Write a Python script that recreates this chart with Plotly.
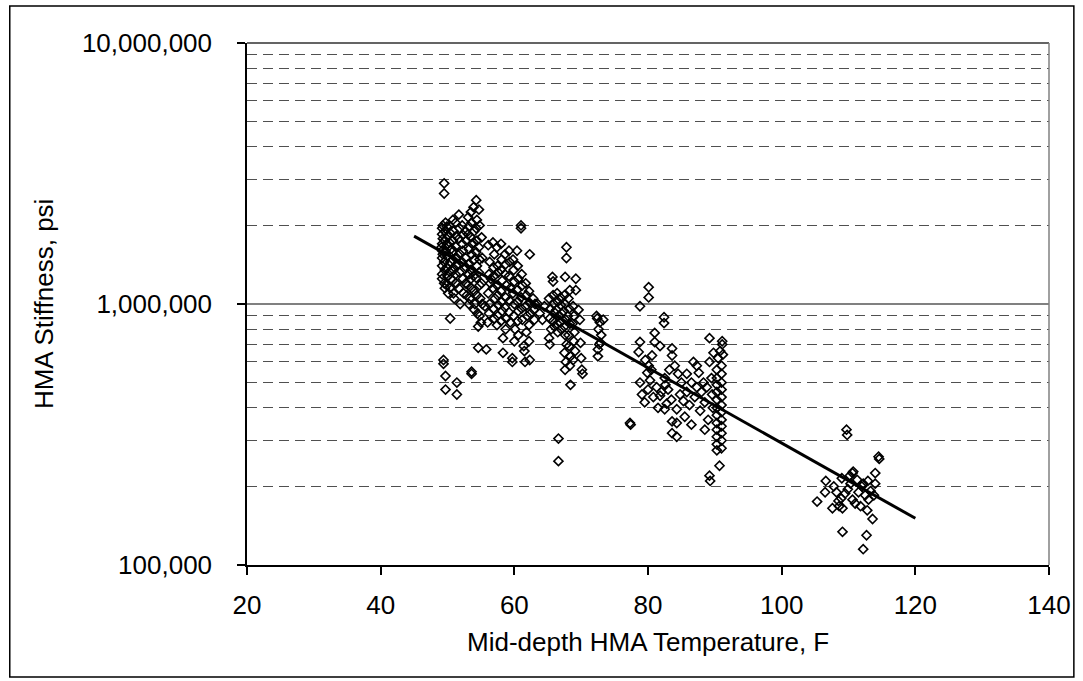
import plotly.graph_objects as go

# ---- data (temperature F, stiffness ksi) ----
group_49_55 = [
    (49.2,1950),(49.2,1850),(49.2,1700),(49.2,1600),(49.2,1500),(49.2,1400),(49.2,1300),(49.2,1250),
    (49.3,1780),(49.3,2000),(49.3,1550),(49.1,1650),
    (49.5,2900),(49.5,2650),(49.6,1900),(49.6,1750),(49.5,1450),(49.6,1350),(49.5,1200),(49.6,1150),
    (49.7,1600),(49.7,2050),
    (49.9,1980),(50.0,1820),(49.9,1680),(50.0,1520),(49.9,1380),(50.0,1280),(49.9,1180),(50.1,1100),
    (50.3,2000),(50.4,1870),(50.3,1720),(50.4,1450),(50.3,1330),(50.5,1620),(50.4,1150),(50.5,1250),
    (50.8,2100),(50.9,1900),(50.8,1750),(50.9,1600),(50.8,1480),(50.9,1350),(50.8,1230),(50.9,1100),(51.0,1050),
    (51.2,2050),(51.3,1820),(51.2,1660),(51.3,1400),(51.2,1300),(51.3,1200),(51.4,1500),
    (51.7,2200),(51.8,1950),(51.7,1780),(51.8,1560),(51.7,1420),(51.8,1320),(51.7,1150),(51.9,1000),
    (52.2,2000),(52.3,1840),(52.2,1700),(52.3,1600),(52.2,1450),(52.3,1250),(52.4,1100),
    (52.7,1900),(52.8,1750),(52.7,1500),(52.8,1380),(52.7,1200),(52.9,1080),
    (53.1,2150),(53.2,1980),(53.1,1850),(53.2,1620),(53.1,1420),(53.2,1300),(53.1,1180),(53.3,1050),(53.2,1000),
    (53.5,2250),(53.6,2050),(53.5,1800),(53.6,1550),(53.5,1350),(53.6,1150),(53.5,1250),(53.7,1700),
    (53.9,2350),(54.0,1900),(53.9,1720),(54.0,1480),(53.9,1280),(54.0,1120),(54.1,1000),(54.0,950),
    (54.3,2500),(54.4,2100),(54.3,1950),(54.4,1750),(54.3,1580),(54.4,1400),(54.3,1260),(54.4,1080),(54.5,920),
    (54.7,2300),(54.8,2000),(54.7,1650),(54.8,1480),(54.7,1320),(54.8,1180),(54.9,1050),(54.8,900),(55.0,850),
    (55.1,1800),(55.2,1500),(55.1,1200),(55.2,1000),
    (49.4,610),(49.4,590),(49.7,530),(49.7,470),(51.4,500),(51.4,450),(53.6,550),(53.6,540),
    (54.6,680),(54.6,820),(55.8,670),(50.4,880),(55.6,980),(56.0,850),
]

group_56_64 = [
    (56.1,1680),(56.3,1450),(56.2,1300),(56.4,1200),(56.1,1100),(56.3,1000),(56.2,920),(56.5,1250),
    (56.8,1720),(57.0,1550),(56.9,1380),(57.0,1280),(56.8,1150),(57.1,1050),(56.9,960),(57.0,880),
    (57.4,1650),(57.5,1400),(57.6,1320),(57.4,1180),(57.5,1080),(57.6,990),(57.5,900),(57.4,830),
    (58.0,1700),(58.1,1480),(58.0,1350),(58.2,1230),(58.0,1120),(58.1,1020),(58.2,940),(58.0,860),(58.3,740),(58.3,650),
    (58.6,1550),(58.7,1420),(58.6,1300),(58.8,1180),(58.7,1060),(58.6,970),(58.8,880),(58.7,800),
    (59.2,1600),(59.3,1450),(59.2,1280),(59.4,1150),(59.3,1030),(59.2,930),(59.4,850),(59.7,620),(59.7,600),
    (59.8,1480),(59.9,1350),(60.0,1220),(59.8,1100),(60.0,1000),(59.9,900),(60.1,800),(60.0,720),
    (60.4,1600),(60.5,1400),(60.6,1250),(60.4,1130),(60.5,1020),(60.6,940),(60.5,860),(60.6,760),
    (61.0,2000),(61.0,1950),(61.1,1300),(61.2,1180),(61.0,1060),(61.1,960),(61.2,870),(61.4,690),(61.5,660),
    (61.7,1200),(61.8,1080),(61.7,980),(61.9,900),(61.8,780),(61.6,600),
    (62.3,1550),(62.2,1120),(62.3,1010),(62.4,920),(62.2,830),(62.3,610),(62.2,720),
    (62.8,1050),(62.9,950),(63.0,870),(63.1,1000),
    (63.5,1000),(63.8,920),(64.2,870),(64.5,980),
]

group_65_70 = [
    (67.8,1650),(67.8,1500),(65.7,1270),(65.8,1220),(67.6,1270),(69.2,1250),(68.3,1130),(69.2,1130),
    (65.2,1050),(65.4,960),(65.3,880),(65.5,800),(65.2,740),(65.3,700),
    (65.8,1080),(65.9,1000),(66.0,930),(65.8,860),(66.0,820),
    (66.4,1100),(66.5,1020),(66.3,950),(66.6,900),(66.4,840),(66.5,780),
    (66.9,1060),(67.0,990),(67.1,920),(66.9,850),(67.0,800),
    (67.5,1080),(67.6,1000),(67.4,940),(67.7,870),(67.5,820),(67.6,760),(67.8,700),(67.5,650),(67.7,600),(67.6,560),
    (68.1,1050),(68.2,960),(68.0,900),(68.3,840),(68.1,760),(68.2,690),(68.4,630),(68.3,580),(68.4,490),
    (68.8,980),(68.9,900),(68.7,840),(69.0,780),(68.9,720),(69.1,660),(68.8,610),
    (69.6,950),(69.8,870),(69.9,710),(70.0,620),(70.1,560),(70.2,540),
    (66.6,305),(66.6,250),
]

group_72_77 = [
    (72.3,900),(72.4,880),(72.6,800),(72.8,850),(73.3,870),(72.7,700),(72.5,670),(72.5,630),(73.0,760),(72.9,710),
    (77.3,350),(77.4,345),
]

group_79_92 = [
    (80.1,1160),(80.1,1060),(78.8,980),(82.4,890),(82.4,845),(81.0,775),(78.8,715),(78.6,655),(81.0,715),
    (81.8,690),(83.6,675),(83.6,635),(84.0,580),(80.6,635),(80.1,580),(79.9,545),(78.8,500),(79.1,450),
    (80.3,510),(81.3,480),(82.5,520),(82.6,490),(81.8,445),(82.8,415),(82.5,395),(83.5,430),(84.3,395),
    (83.6,355),(84.3,350),(83.6,320),(84.3,310),(85.3,425),(85.5,370),(86.5,345),(86.8,600),(87.3,580),
    (87.6,545),(86.5,500),(87.3,480),(88.3,500),(88.5,420),(88.5,330),(89.2,740),(89.8,650),(89.2,600),
    (91.1,720),(91.1,700),
    (90.3,560),(90.3,520),(90.3,490),(90.3,460),(90.3,430),(90.3,400),(90.3,375),(90.3,350),(90.3,330),
    (90.3,310),(90.3,290),(90.3,275),
    (91.0,580),(91.0,540),(91.0,500),(91.0,470),(91.0,440),(91.0,410),(91.0,385),(91.0,360),(91.0,340),
    (91.0,320),(91.0,300),(91.0,280),(90.7,240),
    (89.2,220),(89.3,210),
    (79.5,420),(80.0,470),(80.8,440),(81.5,400),(82.0,460),(83.0,470),(84.8,450),(85.0,500),(85.8,460),
    (86.2,410),(87.0,440),(87.8,390),(88.0,460),(88.8,480),(89.5,520),(89.6,450),(89.7,400),(89.0,360),
    (84.5,540),(83.2,560),(85.8,540),(80.5,560),(79.6,610),(90.5,620),(91.2,640),(90.8,660),
]

group_105_115 = [
    (109.7,330),(109.8,315),(114.5,260),(114.6,255),(105.3,175),(106.6,210),(106.5,190),(107.6,165),
    (109.1,134),(112.7,130),(112.2,115),(113.6,150),(109.1,165),(110.6,225),(110.7,228),(110.2,220),
    (109.0,215),(114.0,225),(114.0,205),(112.2,205),(112.9,210),(112.5,185),(111.8,168),(111.0,172),
    (110.6,178),(108.5,176),(108.6,168),(113.0,178),(108.2,190),(109.9,195),(108.9,180),(111.5,190),
    (113.3,192),(112.0,200),(110.3,205),(107.8,200),(113.8,185),(111.3,212),(109.5,188),(112.8,162),
]

trend_temp = [45, 120]
trend_stiff = [1820000, 151000]

x_ticks = [20, 40, 60, 80, 100, 120, 140]
y_major = [100000, 1000000, 10000000]
y_major_text = ["100,000", "1,000,000", "10,000,000"]
y_minor = [m * 10 ** k for k in (5, 6) for m in range(2, 10)]

groups = [group_49_55, group_56_64, group_65_70, group_72_77, group_79_92, group_105_115]
temps = [t for g in groups for t, _ in g]
stiff = [e * 1000 for g in groups for _, e in g]

FONT = "Liberation Sans, Arial, sans-serif"

fig = go.Figure()
fig.add_trace(go.Scatter(
    x=temps, y=stiff, mode="markers",
    marker=dict(symbol="diamond-open", size=7, color="black", line=dict(width=1.6, color="black")),
    showlegend=False, hoverinfo="skip",
))
fig.add_trace(go.Scatter(
    x=trend_temp, y=trend_stiff, mode="lines",
    line=dict(color="black", width=3), showlegend=False, hoverinfo="skip",
))

fig.update_layout(
    width=1083, height=681,
    margin=dict(l=247, r=28, t=43, b=116, pad=0),
    paper_bgcolor="white", plot_bgcolor="white",
    font=dict(family=FONT, size=26, color="black"),
    xaxis=dict(
        range=[20, 140], tickvals=x_ticks, ticks="outside", ticklen=8, tickwidth=1.5,
        tickcolor="black", showline=True, linecolor="black", linewidth=1.5,
        showgrid=False, zeroline=False, ticklabelstandoff=8,
        tickfont=dict(family=FONT, size=26),
    ),
    yaxis=dict(
        type="log", range=[5, 7], tickvals=y_major, ticktext=y_major_text,
        ticks="outside", ticklen=8, tickwidth=1.5, tickcolor="black",
        showline=True, linecolor="black", linewidth=1.5,
        showgrid=True, gridcolor="#808080", gridwidth=1.5, zeroline=False,
        ticklabelstandoff=20,
        tickfont=dict(family=FONT, size=26),
        minor=dict(tickvals=y_minor, showgrid=True, gridcolor="#505050", gridwidth=1,
                   griddash="10px,6px", ticks=""),
    ),
    shapes=[
        dict(type="line", xref="paper", yref="paper", x0=0, x1=1, y0=1, y1=1,
             line=dict(color="#303030", width=1.5)),
        dict(type="line", xref="paper", yref="paper", x0=1, x1=1, y0=0, y1=1,
             line=dict(color="#808080", width=1.5)),
        dict(type="rect", xref="paper", yref="paper", x0=-0.2958, x1=1.031, y0=-0.2145, y1=1.071,
             line=dict(color="black", width=1.5)),
    ],
    annotations=[
        dict(text="Mid-depth HMA Temperature, F", xref="paper", yref="paper", x=0.5, y=-0.148,
             xanchor="center", yanchor="middle", showarrow=False, font=dict(family=FONT, size=26)),
        dict(text="HMA Stiffness, psi", xref="paper", yref="paper", x=-0.253, y=0.5,
             xanchor="center", yanchor="middle", textangle=-90, showarrow=False,
             font=dict(family=FONT, size=26)),
    ],
)

fig.write_html("out.html")
